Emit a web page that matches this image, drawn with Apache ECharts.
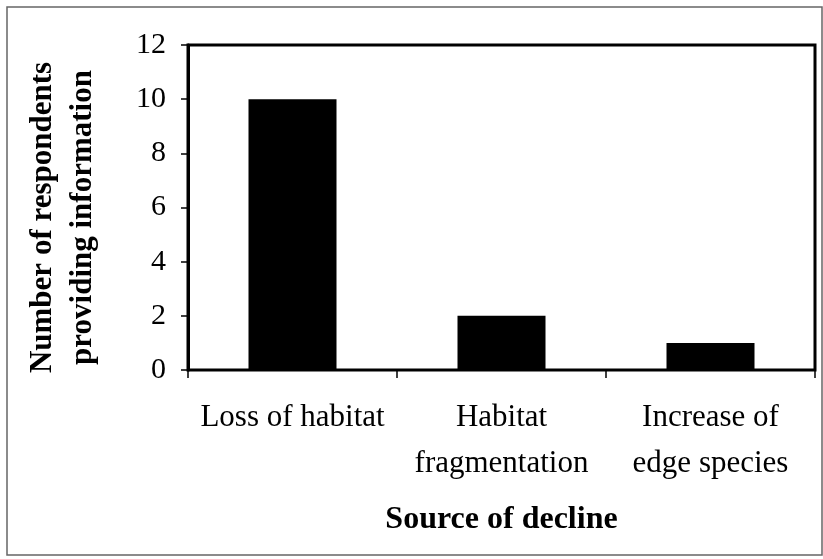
<!DOCTYPE html>
<html>
<head>
<meta charset="utf-8">
<script src="https://cdn.jsdelivr.net/npm/echarts@6/dist/echarts.min.js"></script>
<style>
html,body{margin:0;padding:0;background:#fff;}
#chart{width:823px;height:559px;}
</style>
</head>
<body>
<div id="chart"></div>
<script>
const categories = ['Loss of habitat', 'Habitat\nfragmentation', 'Increase of\nedge species'];
const respondents = [10, 2, 1];
const yTicks = [0, 2, 4, 6, 8, 10, 12];
const xTitle = 'Source of decline';
const yTitle = 'Number of respondents\nproviding information';

const chart = echarts.init(document.getElementById('chart'), null, {renderer: 'canvas'});
const serif = '"Liberation Serif", "Times New Roman", serif';
chart.setOption({
  animation: false,
  backgroundColor: '#fff',
  graphic: [{
    type: 'rect',
    shape: {x: 7, y: 7, width: 815, height: 548},
    style: {fill: 'none', stroke: '#666', lineWidth: 1.5},
    silent: true,
    z: -1
  }],
  grid: {
    left: 188, right: 8, top: 45, bottom: 189,
    show: true, borderColor: '#000', borderWidth: 3, backgroundColor: 'transparent'
  },
  xAxis: {
    type: 'category',
    data: categories,
    name: xTitle,
    nameLocation: 'middle',
    nameGap: 134,
    nameTextStyle: {fontFamily: serif, fontWeight: 'bold', fontSize: 32, color: '#000', lineHeight: 32},
    axisLine: {show: true, lineStyle: {color: '#000', width: 2}},
    axisTick: {show: true, length: 8, lineStyle: {color: '#000', width: 1.5}},
    axisLabel: {fontFamily: serif, fontSize: 31, color: '#000', margin: 25, lineHeight: 46, interval: 0},
    splitLine: {show: false}
  },
  yAxis: {
    type: 'value',
    min: yTicks[0],
    max: yTicks[yTicks.length - 1],
    interval: yTicks[1] - yTicks[0],
    name: yTitle,
    nameLocation: 'middle',
    nameRotate: 90,
    nameGap: 85,
    nameTextStyle: {fontFamily: serif, fontWeight: 'bold', fontSize: 31, color: '#000', lineHeight: 40, padding: [0, 20, 0, 0]},
    axisLine: {show: true, lineStyle: {color: '#000', width: 3}},
    axisTick: {show: true, length: 7, lineStyle: {color: '#000', width: 1.5}},
    axisLabel: {fontFamily: serif, fontSize: 30, color: '#000', margin: 22},
    splitLine: {show: false}
  },
  series: [{
    type: 'bar',
    data: respondents,
    barWidth: 88,
    itemStyle: {color: '#000'}
  }]
});
</script>
</body>
</html>
